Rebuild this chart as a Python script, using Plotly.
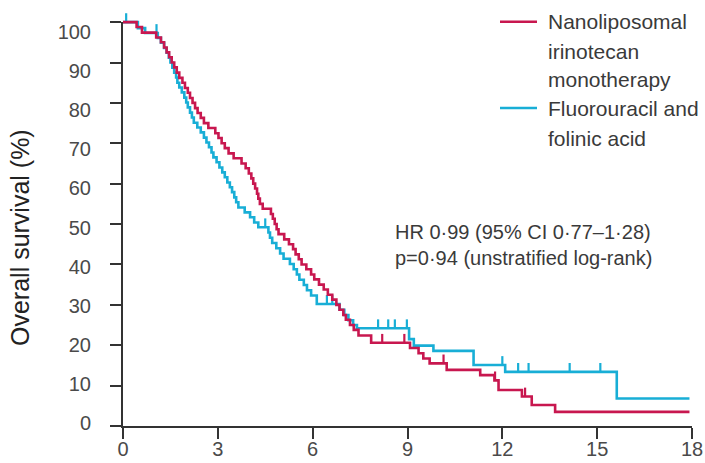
import numpy as np
import plotly.graph_objects as go

# ---- Kaplan-Meier step data (months, % surviving after each event) ----
nal_time = [0, 0.43, 0.6, 1.05, 1.2, 1.3, 1.38, 1.46, 1.54, 1.62, 1.7, 1.78, 1.88, 1.96,
            2.05, 2.12, 2.2, 2.28, 2.36, 2.46, 2.56, 2.7, 2.92, 3.02, 3.12, 3.22, 3.34,
            3.5, 3.75, 3.88, 3.98, 4.06, 4.12, 4.18, 4.24, 4.28, 4.33, 4.42, 4.68, 4.74,
            4.8, 4.86, 4.92, 5.1, 5.25, 5.38, 5.46, 5.56, 5.65, 5.8, 5.95, 6.05, 6.2,
            6.35, 6.48, 6.62, 6.75, 6.85, 6.97, 7.05, 7.18, 7.3, 7.45, 7.85, 9.08, 9.35,
            9.5, 9.7, 10.24, 11.3, 11.75, 11.88, 12.62, 12.93, 13.67, 17.92]
nal_surv = [100, 98.8, 97.4, 96.2, 95, 93.7, 92.5, 91.3, 90, 88.8, 87.5, 86.2, 85, 83.7,
            82.5, 81.2, 80, 78.7, 77.5, 76.3, 75, 73.8, 72.5, 71.3, 70, 68.8, 67.5,
            66.3, 65, 63.8, 62.5, 61.3, 60, 58.8, 57.5, 56.3, 55, 53.8, 52.5, 51.3,
            50, 48.7, 47.5, 46.2, 45, 43.8, 42.5, 41.3, 40, 38.8, 37.5, 36.3, 35,
            33.8, 32.5, 31.3, 30, 28.8, 27.5, 26.3, 25, 23.8, 22.4, 20.6, 19.3, 18.0,
            16.7, 15.5, 13.9, 12.6, 11.3, 8.9, 7.3, 5.2, 3.5, 3.5]
nal_censor = [8.2, 8.9, 10.14, 11.77, 12.72]

ff_time = [0, 0.47, 0.7, 1.1, 1.2, 1.3, 1.38, 1.45, 1.5, 1.56, 1.62, 1.68, 1.72, 1.78,
           1.86, 1.94, 2.0, 2.05, 2.12, 2.18, 2.24, 2.35, 2.46, 2.56, 2.64, 2.72, 2.8,
           2.86, 2.96, 3.05, 3.14, 3.22, 3.3, 3.38, 3.45, 3.52, 3.58, 3.65, 3.85, 4.02,
           4.15, 4.28, 4.6, 4.65, 4.72, 4.85, 4.97, 5.08, 5.28, 5.4, 5.5, 5.58, 5.72,
           5.82, 5.95, 6.13, 6.85, 7.0, 7.13, 7.28, 7.4, 9.05, 9.2, 9.82, 11.09, 12.09,
           15.62, 17.92]
ff_surv = [100, 98.5, 97.3, 96.1, 94.9, 93.6, 92.4, 91.2, 90, 88.7, 87.5, 86.3, 85, 83.8,
           82.6, 81.3, 80.1, 78.9, 77.6, 76.4, 75.1, 73.9, 72.7, 71.4, 70.2, 69, 67.7,
           66.5, 65.3, 64, 62.8, 61.6, 60.3, 59.1, 57.9, 56.6, 55.4, 54.1, 52.9, 51.7,
           50.4, 49.2, 47.9, 46.6, 45.3, 44, 42.7, 41.4, 40.1, 38.8, 37.5, 36.2, 34.9,
           33.6, 32.3, 30.2, 28.8, 27.5, 26.2, 25.0, 24.2, 21.5, 19.9, 18.6, 15.1, 13.4,
           6.8, 6.8]
ff_censor = [0.1, 1.06, 4.5, 6.45, 6.62, 8.07, 8.39, 8.6, 8.98, 12.0, 12.5, 12.83,
             14.13, 15.1]

x_ticks = [0, 3, 6, 9, 12, 15, 18]
y_ticks = [0, 10, 20, 30, 40, 50, 60, 70, 80, 90, 100]

RED = "#c8174f"
BLUE = "#18aed6"
AXIS = "#333333"
TEXT = "#3a3a3a"
TICKTEXT = "#4a4a4a"
FONT = "Liberation Sans"

# canvas geometry (pixels)
W, H = 705, 463
ML, MR, MT, MB = 123, 13, 10, 37
PW, PH = W - ML - MR, H - MT - MB
Y_TOP = 103  # headroom above 100 % so the curves are not clipped


def px(xp):
    return (xp - ML) / PW


def py(yp):
    return (H - MB - yp) / PH


def censor_segments(times, steps_t, steps_s, height=2.2):
    """Short upward ticks on the step curve at each censoring time."""
    steps_t = np.asarray(steps_t)
    steps_s = np.asarray(steps_s)
    xs, ys = [], []
    for t in times:
        s = steps_s[np.searchsorted(steps_t, t, side="right") - 1]
        xs += [t, t, None]
        ys += [s, s + height, None]
    return xs, ys


fig = go.Figure()

for t, s, c, cen in [(ff_time, ff_surv, BLUE, ff_censor),
                     (nal_time, nal_surv, RED, nal_censor)]:
    fig.add_trace(go.Scatter(x=t, y=s, mode="lines", line=dict(color=c, width=2.6, shape="hv"),
                             yaxis="y2", showlegend=False, hoverinfo="skip"))
    cx, cy = censor_segments(cen, t, s)
    fig.add_trace(go.Scatter(x=cx, y=cy, mode="lines", line=dict(color=c, width=2.2),
                             yaxis="y2", showlegend=False, hoverinfo="skip"))

# empty traces so the tick axis and the label axis get their own subplots
for ax in ("y", "y3"):
    fig.add_trace(go.Scatter(x=[None], y=[None], yaxis=ax, showlegend=False, hoverinfo="skip"))

fig.update_layout(
    width=W, height=H,
    margin=dict(l=ML, r=MR, t=MT, b=MB, autoexpand=False),
    paper_bgcolor="white", plot_bgcolor="rgba(0,0,0,0)",
    font=dict(family=FONT, color=TEXT, size=20),
    showlegend=False,
    xaxis=dict(range=[0, 18], tickvals=x_ticks, ticks="outside", ticklen=11, tickwidth=2,
               tickcolor=AXIS, showline=True, linecolor=AXIS, linewidth=2,
               showgrid=False, zeroline=False, anchor="y", domain=[0, 1], automargin=False,
               tickfont=dict(size=20, color=TICKTEXT), ticklabelstandoff=-7),
    # axis line and tick marks for the survival scale
    yaxis=dict(range=[0, 100], tickvals=y_ticks, ticks="outside", ticklen=11, tickwidth=2,
               tickcolor=AXIS, showline=True, linecolor=AXIS, linewidth=2,
               showgrid=False, zeroline=False, anchor="x", domain=[0, 100 / Y_TOP],
               showticklabels=False, automargin=False),
    # data scale, with a little headroom above 100 %
    yaxis2=dict(range=[0, Y_TOP], domain=[0, 1], anchor="x", visible=False,
                automargin=False),
    # tick labels, set on a slightly tighter span than the tick marks
    yaxis3=dict(range=[0, 100], tickvals=y_ticks, ticks="", showline=False,
                showgrid=False, zeroline=False, anchor="x", domain=[py(423), py(32)],
                tickfont=dict(size=20, color=TICKTEXT), ticklabelstandoff=31,
                automargin=False),
)

# y-axis title
fig.add_annotation(text="Overall survival (%)", xref="paper", yref="paper",
                   x=px(20), y=py(238), textangle=-90, showarrow=False,
                   font=dict(size=25, color="#222222"), xanchor="center", yanchor="middle")

# legend, drawn by hand so the line spacing can be set
legend_rows = [("Nanoliposomal", 21.7), ("irinotecan", 51.7), ("monotherapy", 80),
               ("Fluorouracil and", 108), ("folinic acid", 138)]
for txt, yy in legend_rows:
    fig.add_annotation(text=txt, xref="paper", yref="paper", x=px(546), y=py(yy),
                       xanchor="left", yanchor="middle", showarrow=False,
                       font=dict(size=21, color=TEXT))
for col, yy in [(RED, 21.7), (BLUE, 108)]:
    fig.add_shape(type="line", xref="paper", yref="paper", x0=px(500), x1=px(537),
                  y0=py(yy), y1=py(yy), line=dict(color=col, width=2.6))

# hazard ratio statement
for txt, yy in [("HR 0·99 (95% CI 0·77–1·28)", 232), ("p=0·94 (unstratified log-rank)", 258)]:
    fig.add_annotation(text=txt, xref="paper", yref="paper", x=px(393), y=py(yy),
                       xanchor="left", yanchor="middle", showarrow=False,
                       font=dict(size=20, color=TEXT))

fig.write_html("out.html")
